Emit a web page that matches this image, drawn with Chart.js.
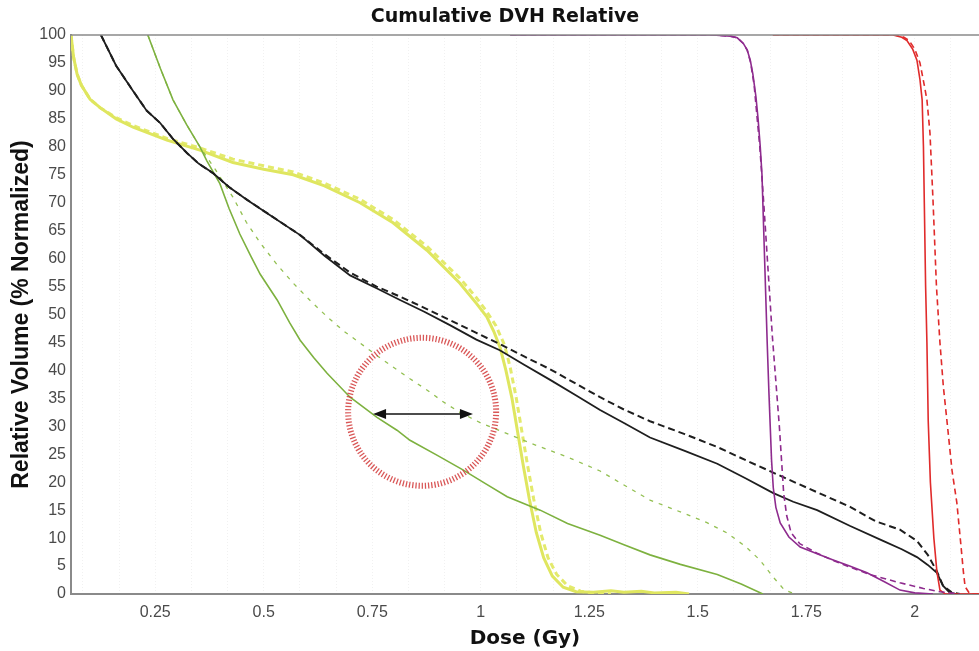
<!DOCTYPE html>
<html>
<head>
<meta charset="utf-8">
<script src="https://cdn.jsdelivr.net/npm/chart.js@4.4.1/dist/chart.umd.min.js"></script>
<style>
  body { margin: 0; background: #fff; }
  canvas { display: block; }
</style>
</head>
<body>
<canvas id="dvhChart" width="979" height="651"></canvas>
<script>
// axis range (Gy / %)
const doseMin = 0.056;
const doseMax = 2.148;
const xTickValues = [0.25, 0.5, 0.75, 1, 1.25, 1.5, 1.75, 2];
const xTickLabels = ['0.25', '0.5', '0.75', '1', '1.25', '1.5', '1.75', '2'];
const yTicks = [0, 5, 10, 15, 20, 25, 30, 35, 40, 45, 50, 55, 60, 65, 70, 75, 80, 85, 90, 95, 100];
// faint vertical grid, every 1/12 Gy
const xGridDose = Array.from({length: 25}, (_, i) => (i + 1) / 12);

// yellow structure
const yellowSolidDose = [0.056, 0.062, 0.070, 0.080, 0.100, 0.123, 0.160, 0.199, 0.277, 0.353, 0.429, 0.500, 0.568, 0.640, 0.722, 0.798, 0.876, 0.952, 0.990, 1.014, 1.030, 1.045, 1.058, 1.072, 1.085, 1.098, 1.112, 1.128, 1.145, 1.165, 1.190, 1.220, 1.260, 1.300, 1.330, 1.370, 1.400, 1.450, 1.480];
const yellowSolidVol  = [100, 96, 93, 91, 88.5, 87, 85, 83.5, 81.2, 79.4, 77.2, 76, 75, 73, 70, 66.4, 61.5, 55.6, 52, 49.6, 47, 44, 40, 35, 29, 23, 17, 11, 6.5, 3.2, 1.2, 0.4, 0.3, 0.6, 0.3, 0.5, 0.2, 0.3, 0];
const yellowDashDose  = [0.056, 0.062, 0.070, 0.080, 0.100, 0.123, 0.160, 0.199, 0.277, 0.353, 0.429, 0.500, 0.568, 0.640, 0.722, 0.798, 0.876, 0.952, 0.990, 1.014, 1.035, 1.055, 1.068, 1.082, 1.095, 1.108, 1.122, 1.138, 1.155, 1.175, 1.200, 1.230, 1.260, 1.300];
const yellowDashVol   = [100, 96, 93, 91, 88.5, 87, 85.2, 83.8, 81.5, 79.8, 77.8, 76.6, 75.5, 73.5, 70.6, 67, 62.2, 56.5, 53, 50.5, 48, 44.5, 40.5, 35, 29, 23, 17, 11, 6.5, 3.5, 1.5, 0.5, 0.2, 0];

// black structure
const blackSolidDose = [0.125, 0.160, 0.199, 0.230, 0.261, 0.290, 0.323, 0.350, 0.383, 0.420, 0.462, 0.520, 0.584, 0.640, 0.699, 0.760, 0.814, 0.870, 0.929, 0.990, 1.044, 1.100, 1.160, 1.220, 1.275, 1.330, 1.390, 1.470, 1.545, 1.610, 1.673, 1.720, 1.775, 1.850, 1.927, 1.970, 2.005, 2.030, 2.051, 2.065, 2.080, 2.095];
const blackSolidVol  = [100, 94.5, 90, 86.5, 84.3, 81.5, 78.9, 77, 75.3, 72.8, 70.5, 67.5, 64.2, 60.5, 57, 54.7, 52.6, 50.5, 48.1, 45.5, 43.6, 41, 38.3, 35.5, 32.9, 30.6, 28, 25.6, 23.3, 20.7, 18.1, 16.5, 15, 12.2, 9.5, 8, 6.6, 5.2, 3.8, 1.5, 0.3, 0];
const blackDashDose  = [0.125, 0.160, 0.199, 0.230, 0.261, 0.290, 0.323, 0.350, 0.383, 0.420, 0.462, 0.520, 0.584, 0.640, 0.699, 0.760, 0.814, 0.870, 0.929, 0.990, 1.044, 1.100, 1.160, 1.220, 1.275, 1.330, 1.390, 1.470, 1.545, 1.620, 1.697, 1.775, 1.851, 1.910, 1.966, 2.005, 2.030, 2.050, 2.065, 2.085, 2.104];
const blackDashVol   = [100, 94.5, 90, 86.5, 84.3, 81.5, 78.9, 77, 75.3, 72.8, 70.5, 67.5, 64.2, 60.8, 57.5, 55, 53.2, 51.2, 49, 46.7, 44.7, 42.5, 40.2, 37.6, 35.2, 33, 30.9, 28.6, 26.3, 23.6, 20.9, 18.2, 15.6, 13, 11.5, 9.5, 7, 4.2, 1.5, 0.3, 0];

// green structure
const greenSolidDose = [0.233, 0.262, 0.291, 0.322, 0.353, 0.369, 0.399, 0.420, 0.445, 0.470, 0.492, 0.531, 0.560, 0.584, 0.615, 0.646, 0.699, 0.761, 0.807, 0.837, 0.900, 0.959, 1.010, 1.061, 1.137, 1.200, 1.275, 1.330, 1.390, 1.460, 1.545, 1.600, 1.650];
const greenSolidVol  = [100, 94, 88.4, 84, 80, 77.5, 73.4, 69, 64.4, 60.5, 57.2, 52.6, 48.5, 45.4, 42.3, 39.5, 35.2, 31.6, 29.3, 27.5, 24.8, 22.2, 19.8, 17.4, 15, 12.6, 10.5, 8.8, 7, 5.3, 3.5, 1.8, 0];
const greenDashDose  = [0.233, 0.262, 0.291, 0.322, 0.353, 0.388, 0.429, 0.460, 0.492, 0.530, 0.568, 0.607, 0.646, 0.685, 0.722, 0.760, 0.798, 0.837, 0.876, 0.915, 0.952, 1.000, 1.051, 1.114, 1.200, 1.275, 1.330, 1.390, 1.466, 1.520, 1.568, 1.610, 1.643, 1.674, 1.700, 1.724];
const greenDashVol   = [100, 94, 88.4, 84, 80, 76, 71, 66.5, 62.8, 59, 55.6, 52.5, 49.6, 47, 44.9, 42.7, 40.6, 38.5, 36.5, 34.3, 32.5, 30.6, 29, 27, 24.5, 22, 19.5, 16.8, 14.5, 12.8, 10.9, 8.5, 6.1, 3, 0.7, 0];

// purple structure
const purpleSolidDose = [1.068, 1.535, 1.575, 1.591, 1.605, 1.614, 1.621, 1.627, 1.634, 1.639, 1.644, 1.648, 1.652, 1.656, 1.660, 1.664, 1.667, 1.670, 1.674, 1.680, 1.690, 1.710, 1.736, 1.775, 1.812, 1.850, 1.890, 1.930, 1.966, 2.000, 2.042];
const purpleSolidVol  = [100, 100, 99.8, 99.5, 98.5, 97.3, 95.5, 93, 89, 85, 80, 75, 65, 55, 45, 36, 30, 24, 19, 15.5, 12.7, 10.2, 8.4, 7.2, 6.1, 5, 3.8, 2.2, 0.7, 0.2, 0];
const purpleDashDose  = [1.068, 1.535, 1.575, 1.591, 1.605, 1.614, 1.622, 1.630, 1.637, 1.643, 1.652, 1.662, 1.672, 1.682, 1.688, 1.693, 1.698, 1.705, 1.715, 1.735, 1.775, 1.812, 1.851, 1.900, 1.966, 2.020, 2.058, 2.104];
const purpleDashVol   = [100, 100, 99.8, 99.5, 98.5, 97.3, 95, 91, 85, 80, 70, 58, 46, 36, 30, 24, 18, 14, 11, 9, 7.3, 6, 4.8, 3.4, 2, 1, 0.4, 0];

// red structure
const redSolidDose = [1.673, 1.950, 1.970, 1.982, 1.995, 2.005, 2.012, 2.017, 2.020, 2.022, 2.025, 2.028, 2.031, 2.036, 2.044, 2.051, 2.058, 2.070, 2.148];
const redSolidVol  = [100, 100, 99.6, 99, 97.5, 95.5, 92, 88.4, 80, 70, 55, 45, 31, 20, 10, 4, 0.7, 0, 0];
const redDashDose  = [1.673, 1.955, 1.975, 1.987, 2.000, 2.012, 2.022, 2.028, 2.035, 2.042, 2.050, 2.058, 2.066, 2.074, 2.086, 2.097, 2.106, 2.112, 2.116, 2.127, 2.148];
const redDashVol   = [100, 100, 99.6, 99, 97.5, 95, 91, 88.4, 82.5, 70.5, 55, 45, 37, 31.1, 22, 16.3, 9, 4, 1.3, 0, 0];

// annotation (dose, volume)
const circleCenter = [0.865, 32.6];
const arrowStart = [0.752, 32.2];
const arrowEnd = [0.982, 32.2];

function pts(dose, vol) {
    return dose.map((d, i) => ({x: d, y: vol[i]}));
}

function line(data, color, width, dash) {
    return {
        data: data,
        borderColor: color,
        borderWidth: width,
        borderDash: dash || [],
        pointRadius: 0,
        tension: 0,
        fill: false
    };
}

const frameAndMarks = {
    id: 'frameAndMarks',
    afterDatasetsDraw(chart) {
        const {ctx, chartArea, scales: {x, y}} = chart;
        ctx.save();
        // top frame line
        ctx.strokeStyle = '#8a8a8a';
        ctx.lineWidth = 1.5;
        ctx.beginPath();
        ctx.moveTo(chartArea.left, chartArea.top);
        ctx.lineTo(chartArea.right, chartArea.top);
        ctx.stroke();

        // hatched red circle
        const cx = x.getPixelForValue(circleCenter[0]);
        const cy = y.getPixelForValue(circleCenter[1]);
        ctx.strokeStyle = 'rgba(210, 58, 58, 0.85)';
        ctx.lineWidth = 6;
        ctx.setLineDash([1.3, 1.9]);
        ctx.beginPath();
        ctx.arc(cx, cy, 74, 0, Math.PI * 2);
        ctx.stroke();
        ctx.setLineDash([]);

        // double arrow
        const x1 = x.getPixelForValue(arrowStart[0]);
        const x2 = x.getPixelForValue(arrowEnd[0]);
        const ay = y.getPixelForValue(arrowStart[1]);
        ctx.strokeStyle = '#111';
        ctx.fillStyle = '#111';
        ctx.lineWidth = 1.3;
        ctx.beginPath();
        ctx.moveTo(x1 + 8, ay);
        ctx.lineTo(x2 - 8, ay);
        ctx.stroke();
        ctx.beginPath();
        ctx.moveTo(x1, ay);
        ctx.lineTo(x1 + 13, ay - 5);
        ctx.lineTo(x1 + 13, ay + 5);
        ctx.closePath();
        ctx.fill();
        ctx.beginPath();
        ctx.moveTo(x2, ay);
        ctx.lineTo(x2 - 13, ay - 5);
        ctx.lineTo(x2 - 13, ay + 5);
        ctx.closePath();
        ctx.fill();

        // chart title
        ctx.fillStyle = '#111';
        ctx.font = 'bold 19px "DejaVu Sans"';
        ctx.textAlign = 'center';
        ctx.textBaseline = 'middle';
        ctx.fillText('Cumulative DVH Relative', 505, 17);
        ctx.restore();
    }
};

const tickFont = {family: '"Liberation Sans", Arial', size: 16};

new Chart(document.getElementById('dvhChart'), {
    type: 'line',
    data: {
        datasets: [
            line(pts(purpleSolidDose, purpleSolidVol), '#8e2b8e', 1.6),
            line(pts(purpleDashDose, purpleDashVol), '#8e2b8e', 1.6, [6, 4]),
            line(pts(redSolidDose, redSolidVol), '#e02b2b', 1.6),
            line(pts(redDashDose, redDashVol), '#e02b2b', 1.6, [6, 4]),
            line(pts(blackSolidDose, blackSolidVol), '#1e1e1e', 1.8),
            line(pts(blackDashDose, blackDashVol), '#1e1e1e', 2, [7, 4]),
            line(pts(greenSolidDose, greenSolidVol), '#7db13f', 1.6),
            line(pts(greenDashDose, greenDashVol), '#93c052', 1.3, [4, 6]),
            line(pts(yellowSolidDose, yellowSolidVol), '#dfe65f', 3),
            line(pts(yellowDashDose, yellowDashVol), '#e3ea6c', 3, [6, 4])
        ]
    },
    options: {
        responsive: false,
        animation: false,
        layout: {padding: {top: 35, left: 0, right: 0, bottom: 0}},
        plugins: {
            legend: {display: false},
            title: {display: false},
            tooltip: {enabled: false}
        },
        scales: {
            x: {
                type: 'linear',
                min: doseMin,
                max: doseMax,
                afterBuildTicks: scale => {
                    scale.ticks = xGridDose.map(v => ({value: v}));
                },
                afterFit: scale => { scale.height = 57; },
                ticks: {
                    autoSkip: false,
                    maxRotation: 0,
                    padding: 9,
                    color: '#4a4a4a',
                    font: tickFont,
                    callback: v => {
                        const i = xTickValues.findIndex(t => Math.abs(t - v) < 1e-9);
                        return i >= 0 ? xTickLabels[i] : '';
                    }
                },
                grid: {color: 'rgba(0,0,0,0.055)', lineWidth: 1, drawTicks: false},
                border: {color: '#8a8a8a', width: 2, dash: [1, 2]},
                title: {
                    display: true,
                    text: 'Dose (Gy)',
                    color: '#111',
                    font: {family: '"DejaVu Sans"', size: 20, weight: 'bold'},
                    padding: {top: 0, bottom: 0}
                }
            },
            y: {
                min: 0,
                max: 100,
                afterBuildTicks: scale => {
                    scale.ticks = yTicks.map(v => ({value: v}));
                },
                afterFit: scale => { scale.width = 71; },
                ticks: {padding: 5, color: '#4a4a4a', font: tickFont},
                grid: {display: false, drawTicks: false},
                border: {color: '#8a8a8a', width: 2},
                title: {
                    display: true,
                    text: 'Relative Volume (% Normalized)',
                    color: '#111',
                    font: {family: '"Liberation Sans", Arial', size: 23, weight: 'bold'},
                    padding: {top: 8, bottom: 0}
                }
            }
        }
    },
    plugins: [frameAndMarks]
});
</script>
</body>
</html>
